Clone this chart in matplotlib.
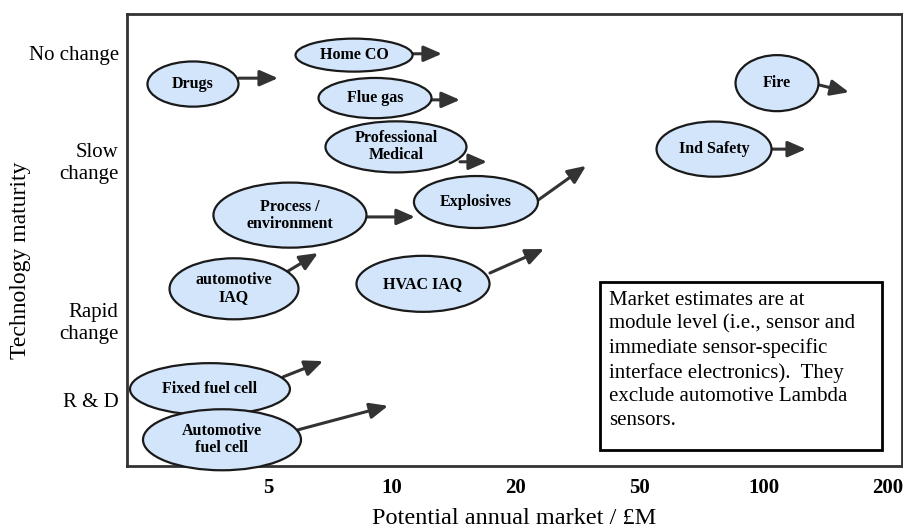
import matplotlib.pyplot as plt
from matplotlib.patches import Ellipse, Rectangle, FancyArrowPatch

# =========================
# 1. DATA
# =========================
# x axis: market size categories, evenly spaced at positions 1..6
market_ticks = [1, 2, 3, 4, 5, 6]
market_labels = ["5", "10", "20", "50", "100", "200"]

# y axis: technology maturity on a 0-100 scale
maturity_ticks = [91.4, 67.7, 32.3, 14.6]
maturity_labels = ["No change", "Slow\nchange", "Rapid\nchange", "R & D"]

# sectors: ellipse centre, size and where the arrow goes
sectors = ["Drugs", "Home CO", "Flue gas", "Professional\nMedical", "Ind Safety",
           "Fire", "Process /\nenvironment", "Explosives", "automotive\nIAQ",
           "HVAC IAQ", "Fixed fuel cell", "Automotive\nfuel cell"]
sector_x = [0.395, 1.694, 1.863, 2.032, 4.597, 5.105, 1.177, 2.677, 0.726, 2.250, 0.532, 0.629]
sector_y = [84.5, 90.9, 81.4, 70.6, 70.1, 84.7, 55.5, 58.4, 39.2, 40.3, 17.0, 5.8]
sector_w = [0.734, 0.944, 0.911, 1.137, 0.927, 0.669, 1.234, 1.000, 1.040, 1.073, 1.290, 1.274]
sector_h = [10.0, 7.3, 8.9, 11.3, 12.2, 12.4, 14.4, 11.5, 13.5, 12.4, 11.5, 13.5]

arrow_x0 = [0.766, 2.169, 2.323, 2.548, 5.065, 5.444, 1.790, 3.177, 1.161, 2.790, 1.121, 1.242]
arrow_y0 = [85.8, 91.2, 81.0, 67.3, 70.1, 84.3, 55.1, 58.8, 43.1, 42.7, 19.7, 8.0]
arrow_x1 = [1.081, 2.403, 2.548, 2.766, 5.339, 5.685, 2.185, 3.565, 1.403, 3.226, 1.444, 1.968]
arrow_y1 = [85.8, 91.2, 81.0, 67.3, 70.1, 82.7, 55.1, 66.4, 47.1, 48.0, 23.2, 13.3]

note = ("Market estimates are at\n"
        "module level (i.e., sensor and\n"
        "immediate sensor-specific\n"
        "interface electronics).  They\n"
        "exclude automotive Lambda\n"
        "sensors.")

# =========================
# 2. FIGURE
# =========================
plt.rcParams["font.family"] = ["Liberation Serif", "DejaVu Serif"]

fig = plt.figure(figsize=(9.04, 5.30), dpi=100)
ax = fig.add_axes([0.1405, 0.1208, 0.8573, 0.8528])
ax.set_xlim(-0.137, 6.113)
ax.set_ylim(0, 100)

for s in ax.spines.values():
    s.set_linewidth(2)
    s.set_color("#333333")

ax.set_xticks(market_ticks)
ax.set_xticklabels(market_labels, fontsize=15, fontweight="bold")
ax.set_yticks(maturity_ticks)
ax.set_yticklabels(maturity_labels, fontsize=15)
ax.tick_params(axis="x", length=0, pad=9)
ax.tick_params(axis="y", length=0, pad=6)

ax.set_xlabel("Potential annual market / £M", fontsize=17.5, labelpad=7)
ax.text(-0.137, 0.454, "Technology maturity", transform=ax.transAxes,
        rotation=90, ha="center", va="center", fontsize=17)

# =========================
# 3. ARROWS + ELLIPSES
# =========================
for i in range(len(sectors)):
    arr = FancyArrowPatch((arrow_x0[i], arrow_y0[i]), (arrow_x1[i], arrow_y1[i]),
                          arrowstyle="-|>,head_length=0.55,head_width=0.24",
                          mutation_scale=20, lw=2.2, color="#333333",
                          shrinkA=0, shrinkB=0, zorder=2)
    ax.add_patch(arr)

for i in range(len(sectors)):
    e = Ellipse((sector_x[i], sector_y[i]), sector_w[i], sector_h[i],
                facecolor="#d3e5fa", edgecolor="#1a1a1a", lw=1.6,
                zorder=3, clip_on=False)
    ax.add_patch(e)
    ax.text(sector_x[i], sector_y[i], sectors[i], ha="center", va="center",
            fontsize=11.5, fontweight="bold", linespacing=1.1, zorder=4)

# =========================
# 4. NOTE BOX
# =========================
box = Rectangle((3.677, 3.5), 2.275, 37.2, facecolor="white",
                edgecolor="black", lw=2, zorder=3)
ax.add_patch(box)
ax.text(3.75, 38.8, note, ha="left", va="top", fontsize=15,
        linespacing=1.32, zorder=4)

plt.savefig("out.png", dpi=100)
